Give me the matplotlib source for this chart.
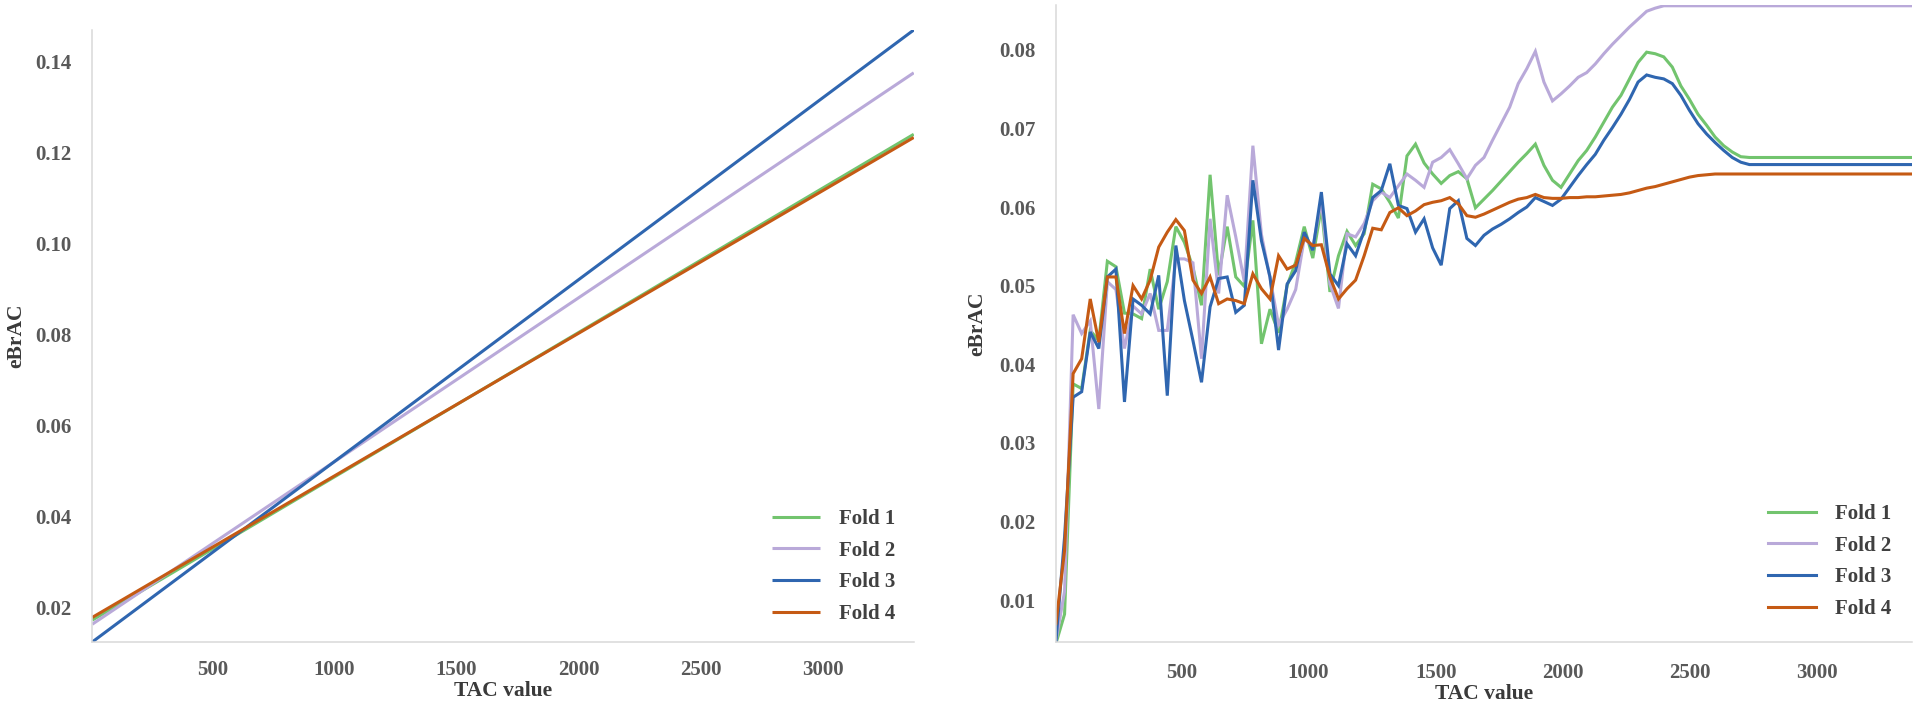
import numpy as np
import matplotlib
matplotlib.use('Agg')
import matplotlib.pyplot as plt
from matplotlib.ticker import FormatStrFormatter

plt.rcParams['font.family'] = ['Liberation Serif', 'DejaVu Serif']
plt.rcParams['font.weight'] = 'bold'

# ---------------- data ----------------
fold_labels = ['Fold 1', 'Fold 2', 'Fold 3', 'Fold 4']
fold_colors = ['#72C46E', '#B9A9D9', '#2F66B0', '#C55A14']

# Left panel: fitted straight lines (value at first and last TAC)
lin_tac = [8, 3372]
lin_fold1 = [0.0173, 0.1240]
lin_fold2 = [0.0164, 0.1375]
lin_fold3 = [0.0125, 0.1469]
lin_fold4 = [0.0179, 0.1233]

# Right panel: TAC grid (evenly spaced sample points) and per-fold curves
tac_start, tac_end, tac_count = 7, 3373, 101
tac_grid = np.linspace(tac_start, tac_end, tac_count)

fold1 = [0.0045, 0.0082, 0.0375, 0.0369, 0.0443, 0.0430, 0.0531, 0.0524, 0.0465, 0.0464,
         0.0458, 0.0521, 0.0470, 0.0505, 0.0575, 0.0555, 0.0523, 0.0475, 0.0641, 0.0513,
         0.0575, 0.0511, 0.0499, 0.0583, 0.0426, 0.0470, 0.0440, 0.0500, 0.0530, 0.0575,
         0.0535, 0.0600, 0.0492, 0.0538, 0.0569, 0.0551, 0.0566, 0.0629, 0.0623, 0.0606,
         0.0586, 0.0665, 0.0680, 0.0656, 0.0642, 0.0630, 0.0640, 0.0645, 0.0636, 0.0599,
         0.0610, 0.0621, 0.0633, 0.0645, 0.0657, 0.0668, 0.0680, 0.0653, 0.0634, 0.0625,
         0.0642, 0.0659, 0.0672, 0.0689, 0.0708, 0.0727, 0.0742, 0.0763, 0.0784, 0.0797,
         0.0795, 0.0791, 0.0778, 0.0754, 0.0737, 0.0718, 0.0704, 0.0689, 0.0678, 0.0670,
         0.0664] + [0.0663] * 20

fold2 = [0.0048, 0.0111, 0.0463, 0.0439, 0.0455, 0.0343, 0.0505, 0.0495, 0.0420, 0.0474,
         0.0464, 0.0490, 0.0443, 0.0443, 0.0534, 0.0534, 0.0529, 0.0407, 0.0585, 0.0490,
         0.0615, 0.0562, 0.0505, 0.0678, 0.0565, 0.0510, 0.0450, 0.0470, 0.0495, 0.0560,
         0.0549, 0.0608, 0.0502, 0.0471, 0.0566, 0.0562, 0.0579, 0.0608, 0.0619, 0.0612,
         0.0627, 0.0642, 0.0634, 0.0625, 0.0657, 0.0663, 0.0673, 0.0655, 0.0636, 0.0653,
         0.0663, 0.0685, 0.0706, 0.0727, 0.0757, 0.0776, 0.0798, 0.0759, 0.0735, 0.0744,
         0.0754, 0.0765, 0.0771, 0.0782, 0.0795, 0.0807, 0.0818, 0.0829, 0.0839, 0.0849,
         0.0853] + [0.0856] * 30

fold3 = [0.0048, 0.0180, 0.0358, 0.0365, 0.0441, 0.0420, 0.0511, 0.0521, 0.0352, 0.0483,
         0.0475, 0.0464, 0.0513, 0.0360, 0.0551, 0.0481, 0.0430, 0.0377, 0.0473, 0.0509,
         0.0511, 0.0466, 0.0475, 0.0634, 0.0557, 0.0511, 0.0418, 0.0502, 0.0519, 0.0568,
         0.0545, 0.0619, 0.0515, 0.0500, 0.0553, 0.0538, 0.0570, 0.0612, 0.0621, 0.0655,
         0.0602, 0.0598, 0.0568, 0.0585, 0.0548, 0.0526, 0.0598, 0.0608, 0.0560, 0.0551,
         0.0564, 0.0572, 0.0578, 0.0585, 0.0593, 0.0600, 0.0612, 0.0607, 0.0602, 0.0610,
         0.0625, 0.0640, 0.0654, 0.0667, 0.0685, 0.0701, 0.0718, 0.0737, 0.0759, 0.0768,
         0.0765, 0.0763, 0.0757, 0.0742, 0.0723, 0.0706, 0.0693, 0.0682, 0.0672, 0.0663,
         0.0657] + [0.0654] * 20

fold4 = [0.0070, 0.0163, 0.0388, 0.0407, 0.0483, 0.0428, 0.0511, 0.0511, 0.0439, 0.0500,
         0.0483, 0.0507, 0.0549, 0.0568, 0.0584, 0.0570, 0.0507, 0.0490, 0.0511, 0.0477,
         0.0483, 0.0481, 0.0477, 0.0515, 0.0496, 0.0483, 0.0538, 0.0521, 0.0526, 0.0560,
         0.0551, 0.0552, 0.0511, 0.0483, 0.0496, 0.0507, 0.0538, 0.0573, 0.0571, 0.0593,
         0.0599, 0.0589, 0.0595, 0.0603, 0.0606, 0.0608, 0.0612, 0.0604, 0.0589, 0.0587,
         0.0591, 0.0596, 0.0601, 0.0606, 0.0610, 0.0612, 0.0616, 0.0612, 0.0611, 0.0611,
         0.0612, 0.0612, 0.0613, 0.0613, 0.0614, 0.0615, 0.0616, 0.0618, 0.0621, 0.0624,
         0.0626, 0.0629, 0.0632, 0.0635, 0.0638, 0.0640, 0.0641] + [0.0642] * 24

x_ticks = [500, 1000, 1500, 2000, 2500, 3000]
left_yticks = [0.02, 0.04, 0.06, 0.08, 0.10, 0.12, 0.14]
right_yticks = [0.01, 0.02, 0.03, 0.04, 0.05, 0.06, 0.07, 0.08]

# ---------------- figure ----------------
W, H = 1920, 711
fig = plt.figure(figsize=(W / 100, H / 100), dpi=100)

def px_axes(x0, x1, ytop, ybot):
    return fig.add_axes([x0 / W, 1 - ybot / H, (x1 - x0) / W, (ybot - ytop) / H])

ax1 = px_axes(92, 914, 30, 642)
ax2 = px_axes(1056, 1912, 5, 642)

TICK_C = '#595959'
LAB_C = '#3a3a3a'
SPINE_C = '#D9D9D9'

def style(ax, yticks, ylim, xpad, ylabel_x):
    for s in ['top', 'right']:
        ax.spines[s].set_visible(False)
    for s in ['left', 'bottom']:
        ax.spines[s].set_color(SPINE_C)
        ax.spines[s].set_linewidth(1.1)
    ax.set_xticks(x_ticks)
    ax.set_yticks(yticks)
    ax.yaxis.set_major_formatter(FormatStrFormatter('%.2f'))
    ax.set_xlim(tac_start, tac_end)
    ax.set_ylim(*ylim)
    ax.tick_params(axis='both', length=0, labelsize=15, colors=TICK_C)
    ax.tick_params(axis='y', pad=14.4)
    ax.tick_params(axis='x', pad=xpad)
    for lab in ax.get_xticklabels() + ax.get_yticklabels():
        lab.set_fontweight('bold')
    ax.set_xlabel('TAC value', fontsize=15.5, fontweight='bold', color=LAB_C, labelpad=1)
    ax.set_ylabel('eBrAC', fontsize=15.5, fontweight='bold', color=LAB_C)
    # place y label centre at a given figure pixel x
    bb = ax.get_position()
    ax.yaxis.set_label_coords((ylabel_x / W - bb.x0) / bb.width, 0.5)
    ax.yaxis.label.set_verticalalignment('center')

lin_series = [lin_fold1, lin_fold2, lin_fold3, lin_fold4]
for vals, c, lab in zip(lin_series, fold_colors, fold_labels):
    ax1.plot(lin_tac, vals, color=c, lw=2.2, label=lab, solid_capstyle='butt')
style(ax1, left_yticks, (0.0125, 0.1469), 13, 16)

curves = [fold1, fold2, fold3, fold4]
for vals, c, lab in zip(curves, fold_colors, fold_labels):
    ax2.plot(tac_grid, vals, color=c, lw=2.2, label=lab, solid_joinstyle='miter')
style(ax2, right_yticks, (0.00466, 0.0857), 15, 977)

def add_legend(ax, fx, fy):
    leg = ax.legend(loc='lower right', bbox_to_anchor=(fx / W, 1 - fy / H),
                    bbox_transform=fig.transFigure, frameon=False,
                    prop={'family': ['Liberation Serif'], 'weight': 'bold', 'size': 15},
                    handlelength=2.3, handletextpad=0.9, labelspacing=0.56,
                    borderpad=0, borderaxespad=0)
    for t in leg.get_texts():
        t.set_color('#404040')
    for h in leg.get_lines():
        h.set_linewidth(2.2)

add_legend(ax1, 895, 624)
add_legend(ax2, 1891, 619)

fig.savefig('out.png', dpi=100, facecolor='white')
